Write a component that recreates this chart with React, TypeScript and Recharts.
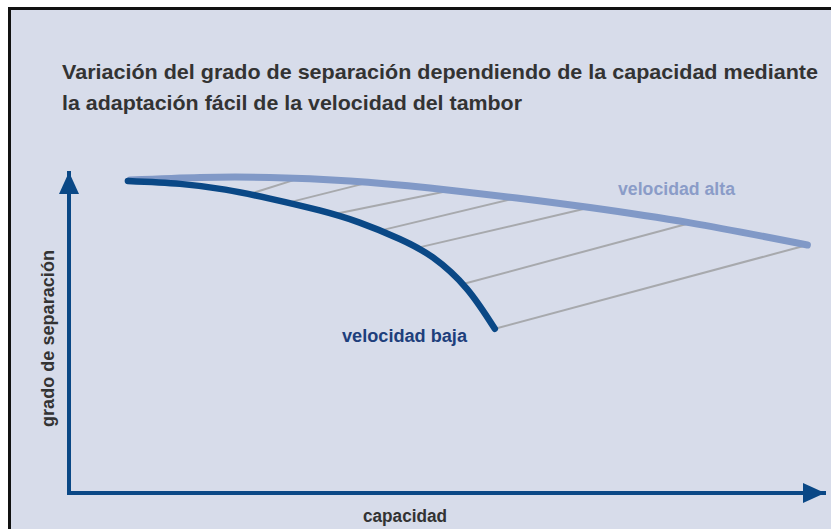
import { LineChart, Line, XAxis, YAxis } from 'recharts';

const TITULO = [
  'Variación del grado de separación dependiendo de la capacidad mediante',
  'la adaptación fácil de la velocidad del tambor',
];

// curva velocidad baja (capacidad 0-100, grado 0-100)
const CAPACIDAD_BAJA = [7.8, 14.7, 20.7, 26.6, 33.2, 38.5, 43.8, 48.2, 52.7, 56.4];
const GRADO_BAJA = [97.5, 96.6, 94.8, 92.0, 88.3, 84.5, 79.4, 73.6, 63.8, 51.3];

// curva velocidad alta
const CAPACIDAD_ALTA = [8.1, 17.4, 26.6, 37.2, 47.8, 59.3, 69.0, 82.3, 97.8];
const GRADO_ALTA = [97.8, 98.6, 98.6, 97.5, 95.3, 92.2, 89.2, 84.4, 77.5];

// rayado entre las dos curvas: punto en la baja -> punto en la alta
const RAYADO_DESDE = [
  [24.0, 93.5], [29.3, 90.9], [35.2, 87.2], [41.2, 82.0], [46.1, 76.6], [52.2, 65.3], [56.4, 51.3],
];
const RAYADO_HASTA = [
  [30.6, 98.4], [39.6, 97.0], [50.5, 94.5], [59.3, 92.2], [69.0, 89.2], [82.3, 84.4], [97.8, 77.5],
];

const baja = CAPACIDAD_BAJA.map((x, i) => ({ x, y: GRADO_BAJA[i] }));
const alta = CAPACIDAD_ALTA.map((x, i) => ({ x, y: GRADO_ALTA[i] }));
const rayado = RAYADO_DESDE.map((d, i) => [
  { x: d[0], y: d[1] },
  { x: RAYADO_HASTA[i][0], y: RAYADO_HASTA[i][1] },
]);

const AZUL = '#0a4886';
const AZUL_CLARO = '#8199c7';
const FONT = "'Liberation Sans Narrow', 'Liberation Sans', Arial, sans-serif";

export default function App() {
  return (
    <div
      style={{
        position: 'absolute',
        left: 0,
        top: 0,
        width: 831,
        height: 529,
        overflow: 'hidden',
        background: '#fff',
      }}
    >
      <div
        style={{
          position: 'absolute',
          left: 8,
          top: 7,
          width: 900,
          height: 600,
          border: '3px solid #111',
          background: '#d7dcea',
        }}
      />
      <div style={{ position: 'absolute', left: 0, top: 0 }}>
        <LineChart
          width={831}
          height={529}
          margin={{ top: 173, right: 7, bottom: 35, left: 68 }}
        >
          <defs>
            <marker
              id='flechaX'
              viewBox='0 0 22 20'
              markerUnits='userSpaceOnUse'
              markerWidth={22}
              markerHeight={20}
              refX={21}
              refY={10}
              orient='auto'
            >
              <path d='M0,0 L22,10 L0,20 z' fill={AZUL} />
            </marker>
            <marker
              id='flechaY'
              viewBox='0 0 22 20'
              markerUnits='userSpaceOnUse'
              markerWidth={22}
              markerHeight={20}
              refX={21}
              refY={10}
              orient='auto-start-reverse'
            >
              <path d='M0,0 L22,10 L0,20 z' fill={AZUL} />
            </marker>
          </defs>
          <XAxis
            type='number'
            dataKey='x'
            domain={[0, 100]}
            height={1}
            tick={false}
            tickLine={false}
            axisLine={{ stroke: AZUL, strokeWidth: 4, strokeLinecap: 'square', markerEnd: 'url(#flechaX)' }}
          />
          <YAxis
            type='number'
            dataKey='y'
            domain={[0, 100]}
            width={1}
            tick={false}
            tickLine={false}
            axisLine={{ stroke: AZUL, strokeWidth: 4, strokeLinecap: 'square', markerStart: 'url(#flechaY)' }}
          />
          {rayado.map((seg, i) => (
            <Line
              key={`r-${i}`}
              data={seg}
              dataKey='y'
              type='linear'
              stroke='#a7a9ad'
              strokeWidth={2}
              dot={false}
              activeDot={false}
              isAnimationActive={false}
            />
          ))}
          <Line
            data={alta}
            dataKey='y'
            type='natural'
            stroke={AZUL_CLARO}
            strokeWidth={7}
            strokeLinecap='round'
            dot={false}
            activeDot={false}
            isAnimationActive={false}
          />
          <Line
            data={baja}
            dataKey='y'
            type='natural'
            stroke={AZUL}
            strokeWidth={6.5}
            strokeLinecap='round'
            dot={false}
            activeDot={false}
            isAnimationActive={false}
          />
          <text x={62} y={79} fontFamily={FONT} fontWeight='bold' fontSize={21} fill='#333'
            textLength={756} lengthAdjust='spacingAndGlyphs'>
            {TITULO[0]}
          </text>
          <text x={62} y={110} fontFamily={FONT} fontWeight='bold' fontSize={21} fill='#333'
            textLength={460} lengthAdjust='spacingAndGlyphs'>
            {TITULO[1]}
          </text>
          <text x={342} y={342} fontFamily={FONT} fontWeight='bold' fontSize={18} fill='#1e3f7c'
            textLength={125} lengthAdjust='spacingAndGlyphs'>
            velocidad baja
          </text>
          <text x={618} y={195} fontFamily={FONT} fontWeight='bold' fontSize={18} fill='#8b9cc8'
            textLength={117} lengthAdjust='spacingAndGlyphs'>
            velocidad alta
          </text>
          <text x={363} y={522} fontFamily={FONT} fontWeight='bold' fontSize={18} fill='#333'
            textLength={84} lengthAdjust='spacingAndGlyphs'>
            capacidad
          </text>
          <text x={54} y={427} fontFamily={FONT} fontWeight='bold' fontSize={18} fill='#333'
            transform='rotate(-90 54 427)' textLength={177} lengthAdjust='spacingAndGlyphs'>
            grado de separación
          </text>
        </LineChart>
      </div>
    </div>
  );
}
